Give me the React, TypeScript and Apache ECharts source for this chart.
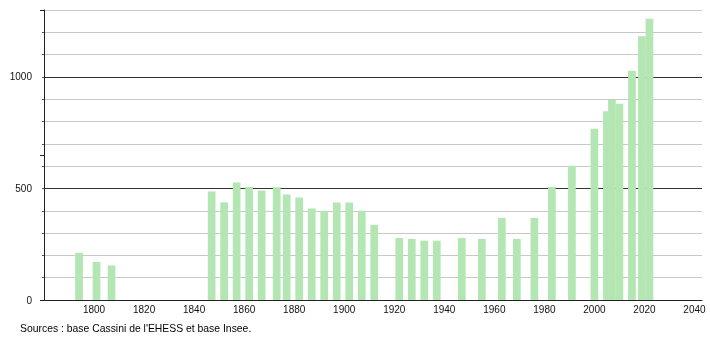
import React, { useEffect, useRef } from "react";
import * as echarts from "echarts";

const years = [
  1793, 1800, 1806, 1846, 1851, 1856, 1861, 1866, 1872, 1876, 1881, 1886, 1891, 1896, 1901, 1906, 1911,
  1921, 1926, 1931, 1936, 1946, 1954, 1962, 1968, 1975, 1982, 1990, 1999, 2004, 2006, 2009, 2014, 2018, 2021,
];
const population = [
  212, 171, 155, 486, 438, 527, 507, 491, 505, 473, 460, 410, 400, 437, 437, 400, 337,
  278, 274, 266, 266, 278, 274, 368, 274, 368, 507, 602, 768, 846, 898, 880, 1028, 1182, 1261,
];
const xTickLabels = [1800, 1820, 1840, 1860, 1880, 1900, 1920, 1940, 1960, 1980, 2000, 2020, 2040];
const yTickLabels = [0, 500, 1000];
const sourceText = "Sources : base Cassini de l'EHESS et base Insee.";

const FONT = "'Liberation Sans', Arial, Helvetica, sans-serif";

export default function App() {
  const ref = useRef<HTMLDivElement>(null);
  useEffect(() => {
    if (!ref.current) return;
    const chart = echarts.init(ref.current, undefined, { renderer: "svg" });
    const data = years.map((y, i) => [y, population[i]]);
    chart.setOption({
      animation: false,
      title: {
        text: sourceText,
        left: 15,
        top: 318,
        textStyle: { fontSize: 10.4, fontWeight: "normal", color: "#000", fontFamily: FONT },
      },
      grid: { left: 44, right: 8, top: 10, bottom: 40 },
      xAxis: {
        type: "value",
        min: 1780,
        max: 2043,
        interval: 20,
        axisLine: { show: true, lineStyle: { color: "#222", width: 1 } },
        axisTick: { show: false },
        splitLine: { show: false },
        axisLabel: {
          margin: 4,
          fontSize: 10,
          color: "#111",
          fontFamily: FONT,
          formatter: (v: number) => (xTickLabels.includes(v) ? String(v) : ""),
        },
      },
      yAxis: [
        {
          type: "value",
          min: 0,
          max: 1300,
          interval: 100,
          axisLine: { show: true, lineStyle: { color: "#222", width: 1 } },
          axisTick: { show: true, length: 2, lineStyle: { color: "#555" } },
          splitLine: {
            show: true,
            lineStyle: { color: ["#333", "#c8c8c8", "#c8c8c8", "#c8c8c8", "#c8c8c8"], width: 1 },
          },
          axisLabel: {
            margin: 12,
            fontSize: 10,
            color: "#111",
            fontFamily: FONT,
            formatter: (v: number) => (yTickLabels.includes(v) ? String(v) : ""),
          },
        },
        {
          type: "value",
          min: 0,
          max: 1000,
          interval: 500,
          position: "left",
          axisLine: { show: false },
          axisTick: { show: true, length: 4, lineStyle: { color: "#222" } },
          splitLine: { show: false },
          axisLabel: { show: false },
        },
      ],
      series: [
        {
          type: "custom",
          xAxisIndex: 0,
          yAxisIndex: 0,
          data,
          renderItem: (params: any, api: any) => {
            const top = api.coord([api.value(0), api.value(1)]);
            const base = api.coord([api.value(0), 0]);
            return {
              type: "rect",
              shape: { x: top[0] - 1.35, y: top[1], width: 7.7, height: base[1] - top[1] },
              style: { fill: "#b3e6b3" },
            };
          },
        },
      ],
    });
    return () => chart.dispose();
  }, []);
  return (
    <div
      ref={ref}
      style={{ position: "fixed", left: 0, top: 0, width: 710, height: 340 }}
    />
  );
}
